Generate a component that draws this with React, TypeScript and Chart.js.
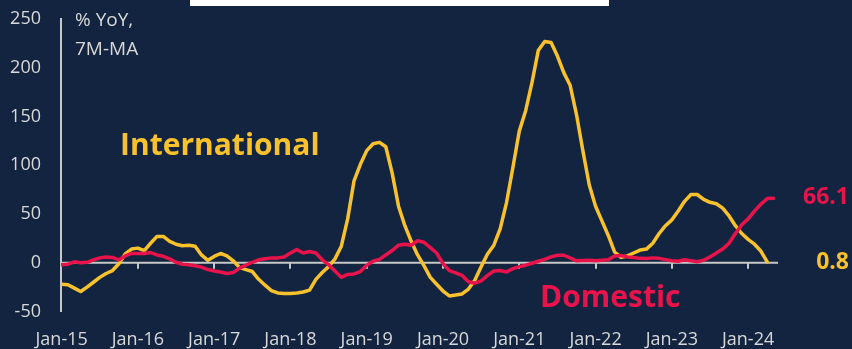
import { useEffect, useRef } from "react";
import { Chart, registerables } from "chart.js";

Chart.register(...registerables);

// Month index 0 = Jan-15; one tick label per January
const tickLabels = ["Jan-15", "Jan-16", "Jan-17", "Jan-18", "Jan-19", "Jan-20", "Jan-21", "Jan-22", "Jan-23", "Jan-24"];

// International tourist arrivals, % YoY, 7-month moving average (Jan-15 .. Apr-24)
const international = [
  -22, -22.5, -26, -29.5, -25, -20, -15, -11, -8, -1, 9, 14,
  15, 12.5, 20, 27, 27, 22, 19, 17.5, 18, 17, 8, 2.5,
  6.5, 9.5, 7, 2, -5, -7, -9, -17, -23, -28.5, -31, -31.5,
  -31.5, -31, -30, -28, -17, -10, -4, 4, 17, 45, 84, 101,
  115, 122, 123.5, 119, 92, 58, 38, 22, 8, -3, -15, -22,
  -29, -34, -33, -32, -27, -18, -4, 9, 18, 35, 62, 98,
  135, 156, 185, 218, 227, 226, 212, 195, 182, 152, 115, 80,
  58, 43, 28, 11, 5.5, 7, 10, 13, 14, 20, 30, 38,
  44, 53, 63, 70, 70, 65, 62, 60.5, 56, 48, 38, 30,
  24, 19, 12, 0.8,
];

// Domestic tourist arrivals, % YoY, 7-month moving average (Jan-15 .. May-24)
const domestic = [
  -2, -1.5, 1, 0, 0.5, 3, 5, 6, 5.5, 3, 7, 9.5,
  9.5, 9.5, 10.5, 8, 6.6, 4, 0.5, -1.5, -2, -3, -4.5, -7,
  -8.5, -9.5, -11, -10, -5.5, -2.5, 0.5, 3, 4, 5, 5, 6,
  10, 13.5, 10, 11.5, 10, 3, -2, -8.5, -15, -12, -11.5, -9,
  -2.5, 1.5, 3.5, 8, 12.5, 18, 19, 18, 22.5, 21, 15.5, 10,
  -1, -8, -10.5, -13, -19.5, -21, -18.5, -13, -8.5, -8, -9.4, -6,
  -4, -2.5, -0.5, 1.5, 3.5, 6, 7.7, 7.7, 5, 2, 2.3, 2.6,
  2, 2.5, 3, 7, 7.5, 6, 5.3, 4.5, 4.3, 5, 4.5, 3.2,
  2, 1.5, 3, 2, 1, 2.5, 6, 10, 14, 20, 30, 39,
  45, 53, 60, 65.8, 66.1,
];

const BG = "#12243f";
const AXIS = "#c8c8c8";
const TEXT = "#d9d9d9";
const YELLOW = "#f9c22c";
const RED = "#e8134a";
const FONT = "'Open Sans', sans-serif";

const toPoints = (arr: number[]) => arr.map((v, i) => ({ x: i, y: v }));

const decorations = {
  id: "decorations",
  beforeDraw(chart: any) {
    const { ctx, width, height } = chart;
    ctx.save();
    ctx.fillStyle = BG;
    ctx.fillRect(0, 0, width, height);
    ctx.fillStyle = "#ffffff";
    ctx.fillRect(190, 0, 419, 6);
    ctx.restore();
  },
  beforeDatasetsDraw(chart: any) {
    const { ctx, chartArea, scales } = chart;
    const xs = scales.x;
    const ys = scales.y;
    const y0 = ys.getPixelForValue(0);
    ctx.save();
    ctx.strokeStyle = AXIS;
    ctx.lineWidth = 2;
    ctx.beginPath();
    ctx.moveTo(chartArea.left, y0);
    ctx.lineTo(chartArea.right, y0);
    tickLabels.forEach((_, i) => {
      if (i === 0) return;
      const px = Math.round(xs.getPixelForValue(i * 12));
      ctx.moveTo(px, y0);
      ctx.lineTo(px, y0 + 6);
    });
    ctx.stroke();
    ctx.restore();
  },
  afterDatasetsDraw(chart: any) {
    const { ctx, scales } = chart;
    const ys = scales.y;
    ctx.save();
    ctx.textBaseline = "alphabetic";
    ctx.textAlign = "left";
    ctx.fillStyle = TEXT;
    ctx.font = `19px ${FONT}`;
    ctx.fillText("% YoY,", 75, 26);
    ctx.fillText("7M-MA", 75, 55);

    ctx.font = `bold 30px ${FONT}`;
    ctx.fillStyle = YELLOW;
    ctx.fillText("International", 120, 155);
    ctx.fillStyle = RED;
    ctx.fillText("Domestic", 540, 307);

    ctx.font = `bold 23px ${FONT}`;
    ctx.textAlign = "right";
    ctx.textBaseline = "middle";
    const dLast = domestic[domestic.length - 1];
    const iLast = international[international.length - 1];
    ctx.fillStyle = RED;
    ctx.fillText(dLast.toFixed(1), 849, ys.getPixelForValue(dLast) - 1);
    ctx.fillStyle = YELLOW;
    ctx.fillText(iLast.toFixed(1), 849, ys.getPixelForValue(iLast));
    ctx.restore();
  },
};

export default function App() {
  const ref = useRef<HTMLCanvasElement | null>(null);

  useEffect(() => {
    document.body.style.margin = "0";
    const canvas = ref.current;
    if (!canvas) return;
    const chart = new Chart(canvas, {
      type: "line",
      data: {
        datasets: [
          {
            label: "Domestic",
            data: toPoints(domestic),
            borderColor: RED,
            borderWidth: 3.5,
            pointRadius: 0,
            tension: 0,
            borderCapStyle: "round",
            borderJoinStyle: "round",
          },
          {
            label: "International",
            data: toPoints(international),
            borderColor: YELLOW,
            borderWidth: 3.5,
            pointRadius: 0,
            tension: 0,
            borderCapStyle: "round",
            borderJoinStyle: "round",
          },
        ],
      },
      options: {
        animation: false,
        responsive: false,
        maintainAspectRatio: false,
        layout: { padding: { left: 0, right: 74, top: 19, bottom: 0 } },
        plugins: {
          legend: { display: false },
          tooltip: { enabled: false },
        },
        scales: {
          x: {
            type: "linear",
            min: -0.1,
            max: 112.7,
            grid: { display: false, tickLength: 0, drawTicks: false },
            border: { display: false },
            afterBuildTicks: (scale: any) => {
              scale.ticks = tickLabels.map((_, i) => ({ value: i * 12 }));
            },
            afterFit: (scale: any) => {
              scale.height = 37.5;
              scale.paddingLeft = 0;
              scale.paddingRight = 0;
            },
            ticks: {
              autoSkip: false,
              maxRotation: 0,
              padding: 18,
              color: TEXT,
              font: { family: FONT, size: 18 },
              callback: (v: any) => tickLabels[Math.round(Number(v) / 12)] ?? "",
            },
          },
          y: {
            min: -50,
            max: 250,
            grid: { display: false, tickLength: 0, drawTicks: false },
            border: { display: true, color: AXIS, width: 2 },
            afterFit: (scale: any) => {
              scale.width = 61;
              scale.paddingTop = 0;
              scale.paddingBottom = 0;
            },
            ticks: {
              stepSize: 50,
              padding: 20,
              color: TEXT,
              font: { family: FONT, size: 18 },
            },
          },
        },
      },
      plugins: [decorations],
    });
    return () => chart.destroy();
  }, []);

  return (
    <div style={{ width: 852, height: 349, background: BG }}>
      <canvas ref={ref} width={852} height={349} style={{ display: "block" }} />
    </div>
  );
}
